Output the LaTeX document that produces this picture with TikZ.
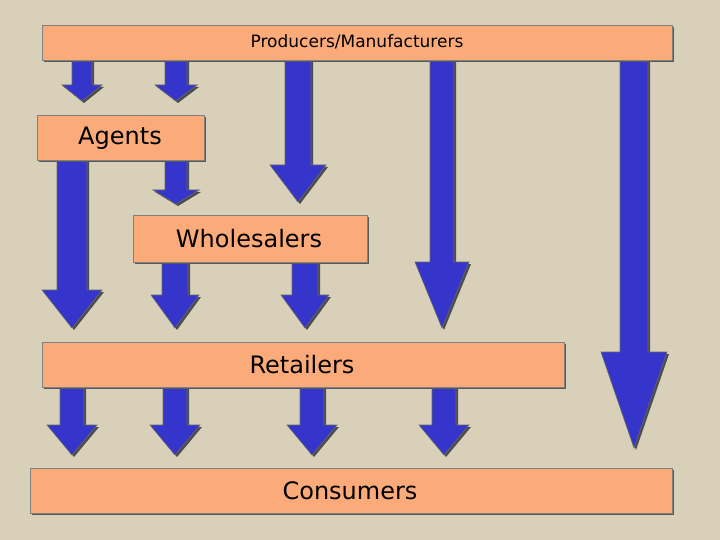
\documentclass[tikz,border=0pt]{standalone}
\usepackage{fontspec}
\setmainfont{DejaVu Sans}
\definecolor{bg}{HTML}{D9D0BA}
\definecolor{boxc}{HTML}{FBAA7A}
\definecolor{arr}{HTML}{3535CC}
\newcommand\barrow[6]{% cx, top, shaft half, head half, head y, tip y
  \fill[black!70] ({#1-#3+2},{#2}) -- ({#1+#3+2},{#2}) -- ({#1+#3+2},{#5+2}) -- ({#1+#4+2},{#5+2}) -- ({#1+2},{#6+2}) -- ({#1-#4+2},{#5+2}) -- ({#1-#3+2},{#5+2}) -- cycle;
  \draw[arrstyle] ({#1-#3},{#2}) -- ({#1+#3},{#2}) -- ({#1+#3},{#5}) -- ({#1+#4},{#5}) -- ({#1},{#6}) -- ({#1-#4},{#5}) -- ({#1-#3},{#5}) -- cycle;}
\begin{document}
\begin{tikzpicture}[x=1pt,y=-1pt,
  arrstyle/.style={fill=arr,draw=black!60,line width=0.6pt},
  boxstyle/.style={fill=boxc,draw=black!50,line width=0.6pt},
  shad/.style={fill=black!65}]
\fill[bg] (0,0) rectangle (720,540);
\useasboundingbox (0,0) rectangle (720,540);
% arrows from producers
\barrow{82}{60}{10}{20}{85}{101}
\barrow{176}{60}{11}{21}{85}{101}
\barrow{298}{60}{13}{28}{165}{202}
\barrow{442}{60}{12}{27}{262}{328}
\barrow{634}{60}{14}{33}{352}{448}
% agents
\barrow{72}{160}{15}{30}{290}{328}
\barrow{176}{160}{11}{23}{190}{204}
% wholesalers
\barrow{175}{262}{13}{24}{295}{328}
\barrow{305}{262}{13}{24}{295}{328}
% retailers
\barrow{72}{387}{12}{25}{425}{455}
\barrow{175}{387}{12}{25}{425}{455}
\barrow{312}{387}{12}{25}{425}{455}
\barrow{444}{387}{12}{25}{425}{455}
% boxes
\fill[shad] (44,27) rectangle (674,62);
\node[boxstyle,minimum width=630pt,minimum height=35pt,anchor=north west,inner sep=0] (prod) at (42,25) {};
\node at (357,42) {\fontsize{17}{20}\selectfont Producers/Manufacturers};
\fill[shad] (39,117) rectangle (206,162);
\node[boxstyle,minimum width=167pt,minimum height=45pt,anchor=north west,inner sep=0] (ag) at (37,115) {};
\node at (120,138) {\fontsize{24}{28}\selectfont Agents};
\fill[shad] (135,217) rectangle (369,264);
\node[boxstyle,minimum width=234pt,minimum height=47pt,anchor=north west,inner sep=0] (wh) at (133,215) {};
\node at (249,239) {\fontsize{24}{28}\selectfont Wholesalers};
\fill[shad] (44,344) rectangle (566,389);
\node[boxstyle,minimum width=522pt,minimum height=45pt,anchor=north west,inner sep=0] (ret) at (42,342) {};
\node at (302,365) {\fontsize{24}{28}\selectfont Retailers};
\fill[shad] (32,470) rectangle (674,515);
\node[boxstyle,minimum width=642pt,minimum height=45pt,anchor=north west,inner sep=0] (con) at (30,468) {};
\node at (350,491) {\fontsize{24}{28}\selectfont Consumers};
\end{tikzpicture}
\end{document}
